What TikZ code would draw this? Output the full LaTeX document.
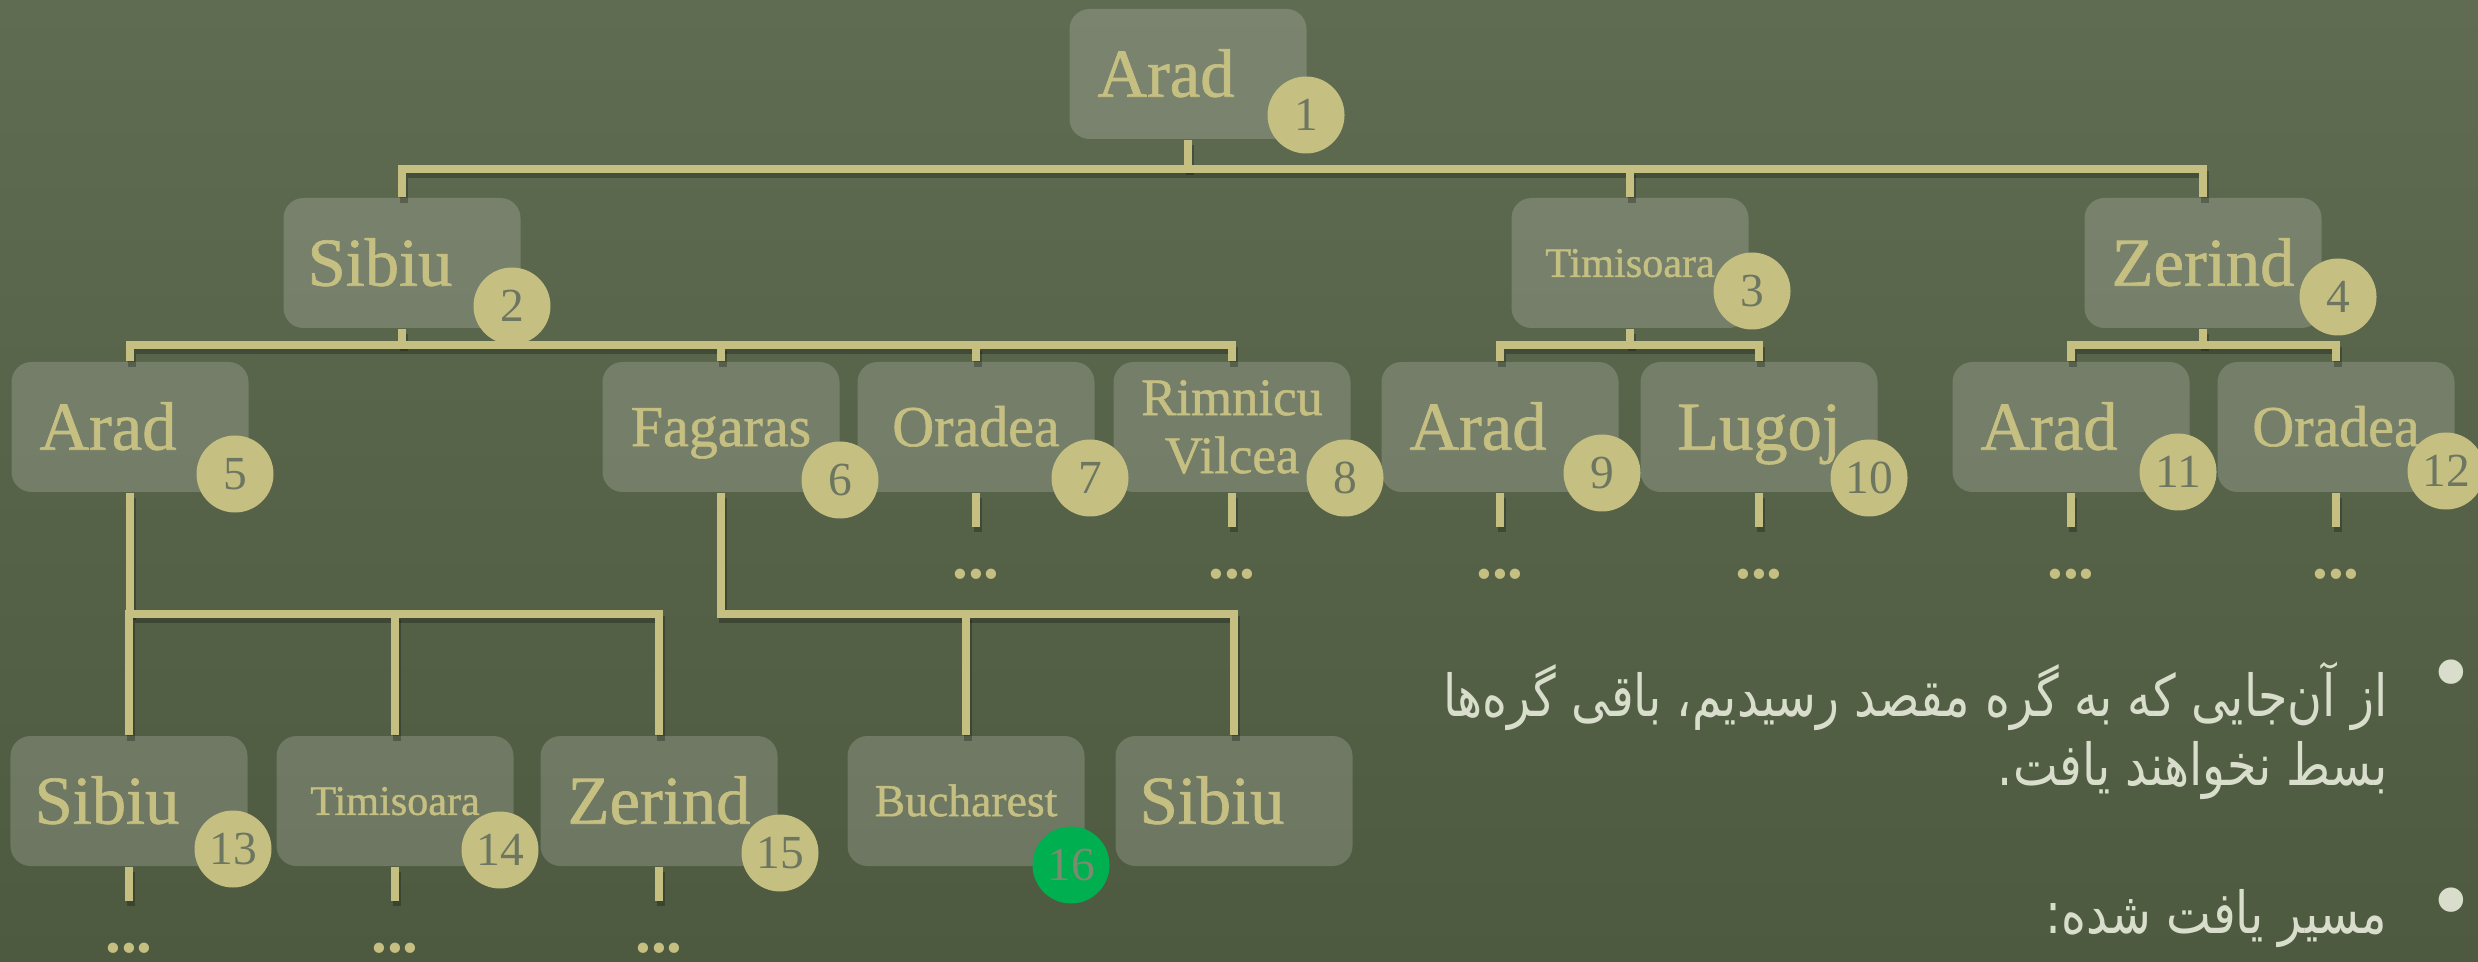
\documentclass[tikz,border=0pt]{standalone}
\usepackage{fontspec}
\usepackage{graphicx}
\setmainfont{Liberation Serif}
\newfontfamily\labelfont[FakeBold=1]{Liberation Serif}
\newfontfamily\arabicfont[Script=Arabic]{DejaVu Sans}
\TeXXeTstate=1
\usetikzlibrary{positioning}

\definecolor{bgtop}{RGB}{96,108,82}
\definecolor{bgbottom}{RGB}{78,90,64}
\definecolor{khaki}{RGB}{197,191,129}
\definecolor{numtext}{RGB}{108,118,96}
\definecolor{goalgreen}{RGB}{0,176,80}
\definecolor{goaltext}{RGB}{125,138,112}
\definecolor{slidetext}{RGB}{216,221,204}

\newcommand{\lpad}[1]{#1\hspace*{0.44cm}}
\newcommand{\fatxt}[1]{\scalebox{0.82}[1]{\beginR #1\endR}}

\tikzset{
  city/.style={rectangle, rounded corners=0.2cm, minimum width=2.37cm, minimum height=1.30cm,
    inner sep=0pt, fill=white, fill opacity=0.17, text opacity=1, text=khaki},
  bigname/.style={font=\labelfont\fontsize{19.5}{22}\selectfont, text height=12.9pt, text depth=0pt},
  midname/.style={font=\labelfont\fontsize{16.5}{19}\selectfont, text height=10.9pt, text depth=0pt},
  smallname/.style={font=\labelfont\fontsize{12}{14}\selectfont, text height=7.9pt, text depth=0pt},
  ordernum/.style={circle, fill=khaki, minimum size=0.77cm, inner sep=0pt, text=numtext,
    font=\fontsize{13.5}{14}\selectfont},
  goalnum/.style={ordernum, fill=goalgreen, text=goaltext},
  conn/.style={draw=khaki, line width=2.2pt,
    preaction={draw=black, draw opacity=0.25, line width=2.2pt, transform canvas={xshift=0.6pt, yshift=-1.6pt}}},
  moredots/.style={text=khaki, font=\bfseries\fontsize{18}{18}\selectfont, inner sep=0pt},
  fatext/.style={text=slidetext, font=\arabicfont\fontsize{16.5}{19}\selectfont, inner sep=0pt},
  bulletmark/.style={text=slidetext, font=\arabicfont\fontsize{24}{24}\selectfont, inner sep=0pt},
}

\begin{document}
\begin{tikzpicture}
\useasboundingbox (0,0) rectangle (24.78,-9.62);
\shade[top color=bgtop, bottom color=bgbottom] (0,0) rectangle (24.78,-9.62);

% level 0 and 1
\node[city, bigname] (root) at (11.88,-0.74) {\lpad{Arad}};
\node[city, bigname] (sibiu) at (4.02,-2.63) {\lpad{Sibiu}};
\node[city, smallname] (timi) at (16.30,-2.63) {Timisoara};
\node[city, bigname] (zerind) at (22.03,-2.63) {Zerind};

% level 2
\node[city, bigname] (arad5) at (1.30,-4.27) {\lpad{Arad}};
\node[city, midname] (fagaras) at (7.21,-4.27) {Fagaras};
\node[city, midname] (oradea7) at (9.76,-4.27) {Oradea};
\node[city, align=center, font=\labelfont\fontsize{15}{16.5}\selectfont] (rimnicu) at (12.32,-4.27) {Rimnicu\\Vilcea};
\node[city, bigname] (arad9) at (15.00,-4.27) {\lpad{Arad}};
\node[city, bigname] (lugoj) at (17.59,-4.27) {Lugoj};
\node[city, bigname] (arad11) at (20.71,-4.27) {\lpad{Arad}};
\node[city, midname] (oradea12) at (23.36,-4.27) {Oradea};

% level 3
\node[city, bigname] (sibiu13) at (1.29,-8.01) {\lpad{Sibiu}};
\node[city, smallname] (timi14) at (3.95,-8.01) {Timisoara};
\node[city, bigname] (zerind15) at (6.59,-8.01) {Zerind};
\node[city, font=\labelfont\fontsize{13}{15}\selectfont, text height=8.6pt, text depth=0pt] (bucharest) at (9.66,-8.01) {Bucharest};
\node[city, bigname] (sibiu17) at (12.34,-8.01) {\lpad{Sibiu}};

% bars
\coordinate (bar1) at (0,-1.69);
\coordinate (bar2) at (0,-3.45);
\coordinate (bar3) at (0,-6.14);

\draw[conn] (root.south) -- (root.south |- bar1);
\draw[conn] (sibiu.north) -- (sibiu.north |- bar1) -| (zerind.north);
\draw[conn] (timi.north) -- (timi.north |- bar1);

\draw[conn] (sibiu.south) -- (sibiu.south |- bar2);
\draw[conn] (arad5.north) -- (arad5.north |- bar2) -| (rimnicu.north);
\draw[conn] (fagaras.north) -- (fagaras.north |- bar2);
\draw[conn] (oradea7.north) -- (oradea7.north |- bar2);
\draw[conn] (timi.south) -- (timi.south |- bar2);
\draw[conn] (arad9.north) -- (arad9.north |- bar2) -| (lugoj.north);
\draw[conn] (zerind.south) -- (zerind.south |- bar2);
\draw[conn] (arad11.north) -- (arad11.north |- bar2) -| (oradea12.north);

\draw[conn] (arad5.south) -- (arad5.south |- bar3);
\draw[conn] (sibiu13.north) -- (sibiu13.north |- bar3) -| (zerind15.north);
\draw[conn] (timi14.north) -- (timi14.north |- bar3);
\draw[conn] (fagaras.south) -- (fagaras.south |- bar3) -| (sibiu17.north);
\draw[conn] (bucharest.north) -- (bucharest.north |- bar3);

% unexpanded children
\foreach \n in {oradea7,rimnicu,arad9,lugoj,arad11,oradea12,sibiu13,timi14,zerind15} {
  \draw[conn] (\n.south) -- ++(0,-0.34) coordinate (\n-end);
  \node[moredots] (\n-dots) at ([yshift=-0.48cm]\n-end) {...};
}

% expansion order
\node[ordernum] (n1) at (13.06,-1.15) {1};
\node[ordernum] (n2) at (5.12,-3.06) {2};
\node[ordernum] (n3) at (17.52,-2.91) {3};
\node[ordernum] (n4) at (23.38,-2.97) {4};
\node[ordernum] (n5) at (2.35,-4.74) {5};
\node[ordernum] (n6) at (8.40,-4.80) {6};
\node[ordernum] (n7) at (10.90,-4.78) {7};
\node[ordernum] (n8) at (13.45,-4.78) {8};
\node[ordernum] (n9) at (16.02,-4.73) {9};
\node[ordernum] (n10) at (18.69,-4.78) {10};
\node[ordernum] (n11) at (21.78,-4.72) {11};
\node[ordernum] (n12) at (24.46,-4.71) {12};
\node[ordernum] (n13) at (2.33,-8.49) {13};
\node[ordernum] (n14) at (5.00,-8.50) {14};
\node[ordernum] (n15) at (7.80,-8.53) {15};
\node[goalnum] (n16) at (10.71,-8.65) {16};

% notes
\node[bulletmark] (bullet1) at (24.51,-6.82) {•};
\node[fatext, anchor=base east] (noteA) at (23.88,-7.16)
  {\fatxt{از آن^^^^200cجایی که به گره مقصد رسیدیم، باقی گره^^^^200cها}};
\node[fatext, anchor=base east] (noteB) at (23.88,-7.85)
  {\fatxt{بسط نخواهند یافت.}};
\node[bulletmark] (bullet2) at (24.51,-9.10) {•};
\node[fatext, anchor=base east] (noteC) at (23.88,-9.33)
  {\fatxt{مسیر یافت شده:}};
\end{tikzpicture}
\end{document}
